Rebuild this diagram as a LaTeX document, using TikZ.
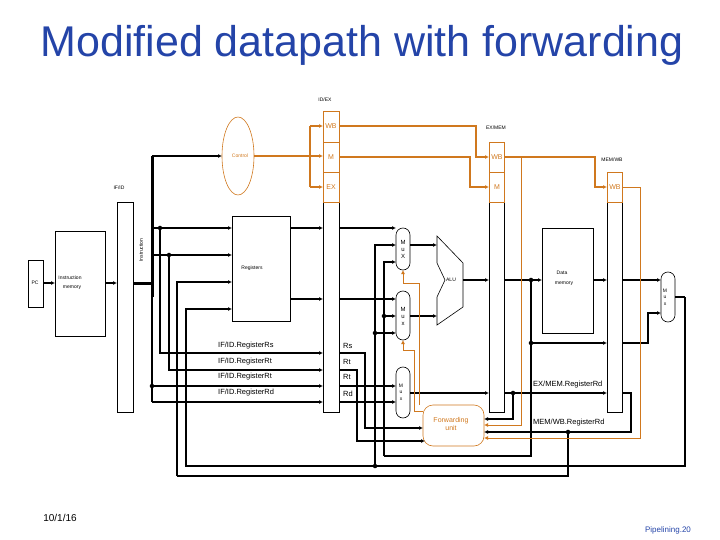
\documentclass[tikz,border=0pt]{standalone}
\usepackage{fontspec}
\setmainfont{Liberation Sans}
\usetikzlibrary{arrows.meta,shapes.geometric,calc}
\definecolor{or}{HTML}{D0781E}
\definecolor{tb}{HTML}{2444A8}
\begin{document}
\begin{tikzpicture}[x=1pt,y=-1pt,
  box/.style={draw,line width=0.6pt,inner sep=0},
  w/.style={line width=2pt,-{Latex[length=4pt,width=4pt]}},
  wn/.style={line width=2pt},
  ow/.style={or,line width=2pt,-{Latex[length=4pt,width=4pt]}},
  on/.style={or,line width=0.8pt},
  oa/.style={or,line width=0.9pt,-{Latex[length=4pt,width=4pt]}},
  dot/.style={circle,fill,inner sep=1.6pt},
  t/.style={font=\fontsize{5}{6}\selectfont,inner sep=0},
  lb/.style={font=\fontsize{7.5}{9}\selectfont,inner sep=0,anchor=west},
  mux/.style={draw,rounded corners=7pt,line width=0.6pt}]
\useasboundingbox (0,0) rectangle (720,540);
\node[tb,font=\fontsize{43}{50}\selectfont] (title) at (362,45) {Modified datapath with forwarding};
\node[font=\fontsize{10}{12}\selectfont\rmfamily] (date) at (60,518) {10/1/16};
\node[tb,font=\fontsize{8}{10}\selectfont] (pg) at (668,530) {Pipelining.20};
% pipeline registers
\draw[box] (117,202) rectangle (133,412); \node[t] (ifidl) at (119,188) {IF/ID};
\draw[box] (323,202) rectangle (339,412); \node[t] (idexl) at (325,100) {ID/EX};
\draw[box,or] (323,111) rectangle (339,202); \draw[or,line width=0.6pt] (323,142)--(339,142) (323,172)--(339,172);
\node[t,or,font=\fontsize{7}{8}\selectfont] at (331,126) {WB};
\node[t,or,font=\fontsize{7}{8}\selectfont] at (331,157) {M};
\node[t,or,font=\fontsize{7}{8}\selectfont] at (331,187) {EX};
\draw[box] (489,202) rectangle (504,412); \node[t] (exmeml) at (496,128) {EX/MEM};
\draw[box,or] (489,142) rectangle (504,202); \draw[or,line width=0.6pt] (489,172)--(504,172);
\node[t,or,font=\fontsize{7}{8}\selectfont] at (497,157) {WB};
\node[t,or,font=\fontsize{7}{8}\selectfont] at (497,187) {M};
\draw[box] (607,202) rectangle (622,412); \node[t] (memwbl) at (612,160) {MEM/WB};
\draw[box,or] (607,172) rectangle (622,202);
\node[t,or,font=\fontsize{7}{8}\selectfont] at (615,187) {WB};
% units
\draw[box] (28,260) rectangle (43,307); \node[t] at (35,283) {PC};
\draw[box] (55,231) rectangle (105,336); \node[t] at (70,278) {Instruction}; \node[t] at (72,288) {memory};
\node[t,rotate=90] at (141,250) {Instruction};
\draw[box] (232,216) rectangle (290,321); \node[t] at (252,268) {Registers};
\draw[box] (542,228) rectangle (593,333); \node[t] at (562,273) {Data}; \node[t] at (564,284) {memory};
\draw[line width=0.6pt] (437,236)--(463,263)--(463,307)--(437,325)--(437,297)--(445,280)--(437,263)--cycle;
\node[t] at (451,280) {ALU};
\node[draw=or,ellipse,minimum width=32pt,minimum height=78pt,inner sep=0,line width=0.6pt] (ctl) at (238,156) {};
\node[t,or] at (240,156) {Control};
\draw[mux] (396,228) rectangle (410,270); \node[t,font=\fontsize{6}{7}\selectfont,align=center] at (403,249) {M\\u\\X};
\draw[mux] (396,291) rectangle (410,340); \node[t,font=\fontsize{6}{7}\selectfont,align=center] at (403,316) {M\\u\\x};
\draw[mux] (396,367) rectangle (410,418); \node[t,font=\fontsize{5}{6.5}\selectfont,align=center] at (401,392) {M\\u\\x};
\draw[mux] (661,272) rectangle (675,322); \node[t,font=\fontsize{5}{6.5}\selectfont,align=center] at (665,297) {M\\u\\x};
\draw[or,rounded corners=10pt,line width=0.6pt] (423,405) rectangle (484,446);
\node[t,or,font=\fontsize{7}{8.5}\selectfont,align=center] (fwd) at (451,424) {Forwarding\\unit};
% labels
\node[lb] at (218,346) {IF/ID.RegisterRs};
\node[lb] at (218,362) {IF/ID.RegisterRt};
\node[lb] at (218,377) {IF/ID.RegisterRt};
\node[lb] at (218,393) {IF/ID.RegisterRd};
\node[lb] at (343,346) {Rs}; \node[lb] at (343,362) {Rt}; \node[lb] at (343,377) {Rt}; \node[lb] at (343,394) {Rd};
\node[lb] at (533,385) {EX/MEM.RegisterRd};
\node[lb] at (533,423) {MEM/WB.RegisterRd};
% black wires
\draw[w] (43,283)--(55,283);
\draw[w] (105,283)--(117,283);
\draw[line width=3pt] (133,283)--(152,283);
\draw[line width=3pt] (152,156)--(152,297);
\draw[wn] (152,297)--(152,402);
\draw[w] (152,156)--(222,156);
\draw[w] (152,228)--(232,228);
\draw[w] (152,255)--(232,255);
\node[dot] at (160,228) {}; \node[dot] at (169,255) {};
\draw[w] (160,228)--(160,353)--(323,353);
\draw[w] (169,255)--(169,370)--(323,370);
\node[dot] at (152,386) {};
\draw[w] (152,386)--(323,386);
\draw[w] (152,402)--(323,402);
\draw[w] (177,476)--(177,282)--(232,282);
\draw[w] (685,297)--(685,466)--(186,466)--(186,309)--(232,309);
\draw[wn] (675,297)--(685,297);
\draw[wn] (177,476)--(568,476)--(568,432);
\node[dot] at (568,432) {};
\draw[w] (290,228)--(323,228);
\draw[w] (290,299)--(323,299);
\draw[w] (339,228)--(396,228);
\draw[w] (339,299)--(396,299);
\draw[w] (375,466)--(375,245)--(396,245);
\draw[w] (384,456)--(384,262)--(396,262);
\node[dot] at (375,466) {};
\node[dot] at (384,316) {}; \draw[w] (384,316)--(396,316);
\node[dot] at (375,333) {}; \draw[w] (375,333)--(396,333);
\draw[wn] (384,456)--(531,456)--(531,280);
\draw[w] (410,245)--(437,245);
\draw[w] (410,316)--(437,316);
\draw[w] (463,280)--(489,280);
\draw[w] (504,280)--(542,280);
\node[dot] at (531,280) {};
\node[dot] at (531,343) {};
\draw[w] (531,343)--(607,343);
\draw[w] (593,280)--(607,280);
\draw[w] (622,280)--(661,280);
\draw[w] (622,343)--(648,343)--(648,313)--(661,313);
\draw[w] (339,353)--(365,353)--(365,428)--(423,428);
\draw[w] (339,370)--(357,370)--(357,441)--(425,441);
\draw[w] (339,386)--(396,386);
\draw[w] (339,402)--(396,402);
\draw[w] (410,393)--(489,393);
\draw[w] (504,393)--(607,393);
\node[dot] at (513,393) {};
\draw[w] (513,393)--(513,419)--(484,419);
\draw[w] (622,393)--(631,393)--(631,432)--(484,432);
% orange control
\draw[or,line width=2pt] (254,156)--(310,156);
\draw[or,line width=2pt] (310,126)--(310,187);
\draw[ow] (310,126)--(323,126);
\draw[ow] (310,156)--(323,156);
\draw[ow] (310,187)--(323,187);
\draw[ow] (339,126)--(476,126)--(476,157)--(489,157);
\draw[ow] (339,157)--(470,157)--(470,187)--(489,187);
\draw[ow] (504,157)--(595,157)--(595,187)--(607,187);
\draw[oa] (504,157)--(521,157)--(521,425)--(484,425);
\draw[oa] (622,187)--(640,187)--(640,438)--(484,438);
\draw[oa] (423,411)--(414,411)--(414,350)--(403,350)--(403,340);
\draw[oa] (419,405)--(419,283)--(403,283)--(403,270);
\end{tikzpicture}
\end{document}
